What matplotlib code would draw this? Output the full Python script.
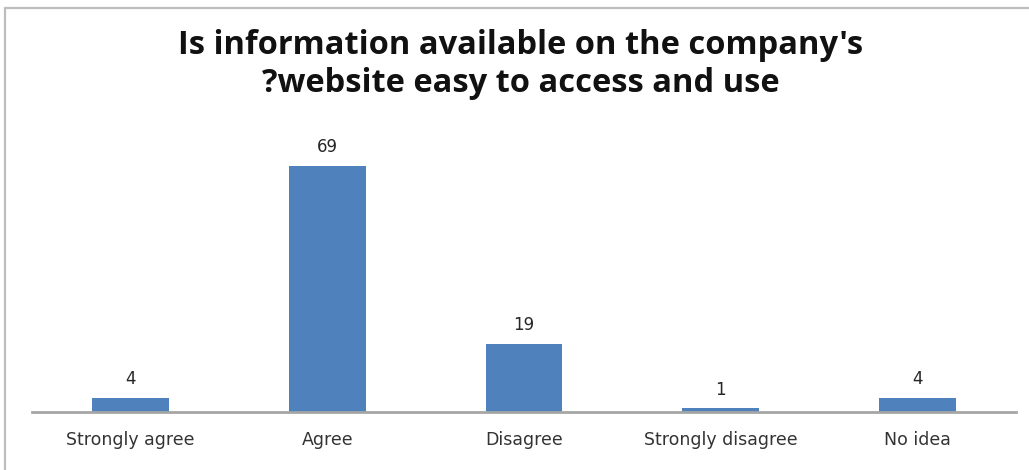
import matplotlib
matplotlib.use("Agg")
import numpy as np
import matplotlib.pyplot as plt
from matplotlib.patches import Rectangle

categories = ["Strongly agree", "Agree", "Disagree", "Strongly disagree", "No idea"]
counts = [4, 69, 19, 1, 4]

title = "Is information available on the company's\n?website easy to access and use"

fig = plt.figure(figsize=(10.29, 4.70), dpi=100)
fig.patch.set_facecolor("white")

# chart frame, open on the right and bottom like the source sheet
frame = Rectangle((5 / 1029, -0.1), 1.2, 1 - 8 / 470 + 0.1, transform=fig.transFigure,
                  fill=False, edgecolor="#BDBDBD", linewidth=1.6, clip_on=False)
fig.patches.append(frame)

ax = fig.add_axes([32 / 1029, 58 / 470, 984 / 1029, 282 / 470])
x = np.arange(len(categories))
bars = ax.bar(x, counts, width=0.39, color="#4F81BD", zorder=2)

ax.set_xlim(-0.5, len(categories) - 0.5)
ax.set_ylim(0, 79)

for rect, val in zip(bars, counts):
    ax.annotate(str(val), (rect.get_x() + rect.get_width() / 2, rect.get_height()),
                xytext=(0, 7), textcoords="offset points", ha="center", va="bottom",
                fontsize=12, color="#262626")

ax.set_xticks(x)
ax.set_xticklabels(categories, fontsize=12.5, color="#333333")
ax.tick_params(axis="x", length=0, pad=14)
ax.set_yticks([])
for side in ["top", "right", "left"]:
    ax.spines[side].set_visible(False)
ax.spines["bottom"].set_color("#A6A6A6")
ax.spines["bottom"].set_linewidth(2)
ax.set_facecolor("none")

fig.text(0.506, 1 - 64 / 470, title, ha="center", va="center", fontsize=23.5,
         fontweight="bold", family=["Open Sans", "DejaVu Sans"], color="#111111",
         linespacing=1.2)

fig.savefig("out.png", dpi=100, facecolor="white")
